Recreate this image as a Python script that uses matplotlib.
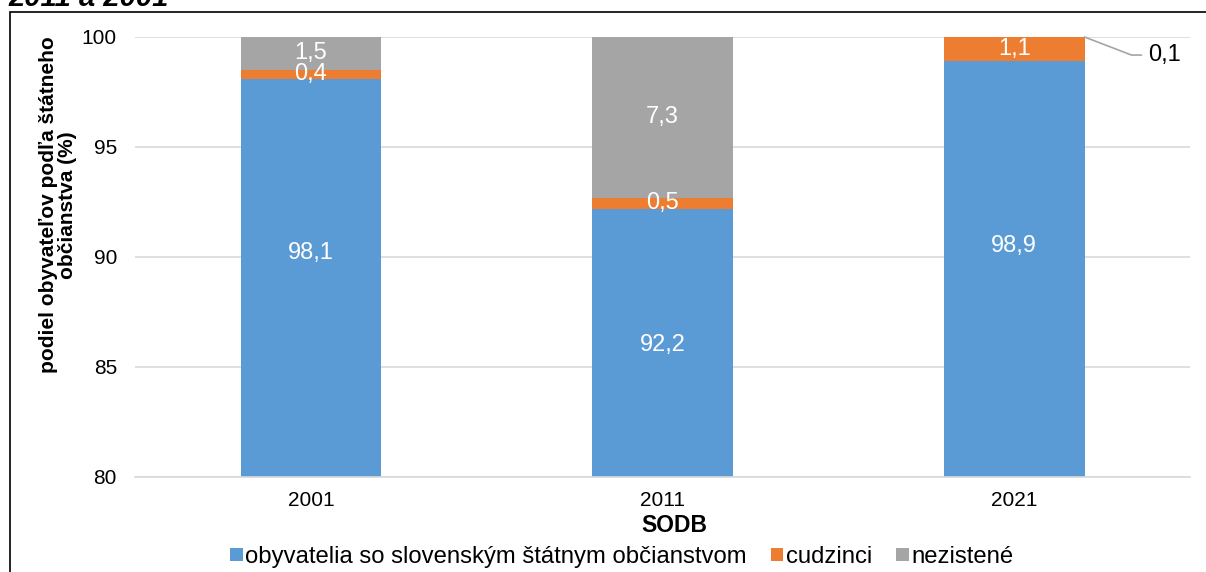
import numpy as np
import matplotlib.pyplot as plt
from matplotlib.patches import Rectangle

plt.rcParams['font.family'] = ['Liberation Sans', 'DejaVu Sans']

# Data
years = ['2001', '2011', '2021']
slovak = [98.1, 92.2, 98.9]
foreign = [0.4, 0.5, 1.1]
unknown = [1.5, 7.3, 0.1]
labels = ['obyvatelia so slovenským štátnym občianstvom', 'cudzinci', 'nezistené']

c_blue = '#5b9bd5'
c_orange = '#ed7d31'
c_gray = '#a5a5a5'

fig = plt.figure(figsize=(12.06, 5.72), dpi=100)
W, H = 1206, 572
ax = fig.add_axes([135 / W, 1 - 477 / H, (1190 - 135) / W, (477 - 37) / H])

x = np.arange(len(years))
w = 0.4
ax.bar(x, slovak, w, color=c_blue, label=labels[0], zorder=2)
ax.bar(x, foreign, w, bottom=slovak, color=c_orange, label=labels[1], zorder=2)
bottom3 = np.array(slovak) + np.array(foreign)
ax.bar(x, unknown, w, bottom=bottom3, color=c_gray, label=labels[2], zorder=2)

ax.set_ylim(80, 100)
ax.set_xlim(-0.5, 2.5)
ax.set_yticks([80, 85, 90, 95, 100])
ax.set_xticks(x)
ax.set_xticklabels(years)
ax.tick_params(axis='both', length=0, labelsize=15)
ax.tick_params(axis='x', pad=10)
ax.tick_params(axis='y', pad=13)
ax.grid(axis='y', color='#d9d9d9', linewidth=1.2, zorder=0)
for s in ['top', 'right', 'left']:
    ax.spines[s].set_visible(False)
ax.spines['bottom'].set_color('#d9d9d9')
ax.spines['bottom'].set_linewidth(1.2)

# data labels
fs = 17
blue_label_y = [90.2, 86.0, 90.5]
for i in range(len(years)):
    ax.text(x[i], blue_label_y[i], f'{slovak[i]:.1f}'.replace('.', ','), color='white',
            ha='center', va='center', fontsize=fs, zorder=3)
    ax.text(x[i], slovak[i] + foreign[i] / 2, f'{foreign[i]:.1f}'.replace('.', ','),
            color='white', ha='center', va='center', fontsize=fs, zorder=3)
    if i < 2:
        ax.text(x[i], bottom3[i] + unknown[i] / 2, f'{unknown[i]:.1f}'.replace('.', ','),
                color='white', ha='center', va='center', fontsize=fs, zorder=3)

ax.annotate(f'{unknown[2]:.1f}'.replace('.', ','), xy=(x[2] + w / 2, 100),
            xytext=(46, -13), textcoords='offset points', ha='left', va='center',
            fontsize=fs, color='black', annotation_clip=False,
            arrowprops=dict(arrowstyle='-', color='#a5a5a5', lw=1.2, relpos=(0, 0.5),
                            shrinkA=3, shrinkB=0,
                            connectionstyle='angle,angleA=0,angleB=-21,rad=0'))

fig.text(674 / W, 1 - 526 / H, 'SODB', fontsize=16.5, fontweight='bold',
         ha='center', va='center')
fig.text(58 / W, 1 - 205 / H, 'podiel obyvateľov podľa štátneho\nobčianstva (%)',
         rotation=90, ha='center', va='center', fontsize=15, fontweight='bold',
         linespacing=1.0)

ax.legend(loc='center', bbox_to_anchor=(622 / W, 1 - 557 / H), bbox_transform=fig.transFigure,
          ncol=3, frameon=False, fontsize=17.2, handlelength=0.52, handleheight=0.52,
          handletextpad=0.12, columnspacing=1.0, borderaxespad=0, borderpad=0)

# clipped title and chart frame
fig.text(8 / W, 1 - 6 / H, '2011 a 2001', fontsize=21, fontweight='bold', style='italic',
         ha='left', va='baseline')
fig.patches.append(Rectangle((10 / W, -0.05), 1.0, (572 - 12) / H + 0.05,
                             transform=fig.transFigure, fill=False, edgecolor='black',
                             linewidth=1.2))

fig.savefig('out.png', dpi=100)
